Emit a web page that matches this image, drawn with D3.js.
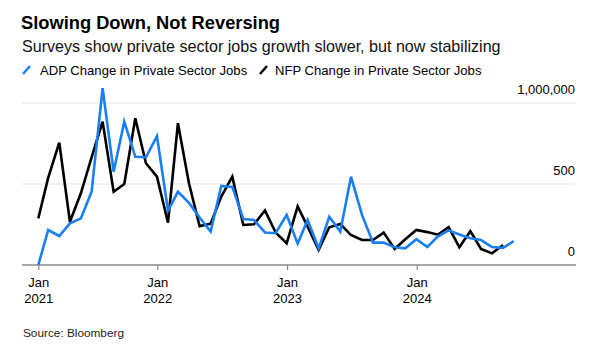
<!DOCTYPE html>
<html>
<head>
<meta charset="utf-8">
<script src="https://cdn.jsdelivr.net/npm/d3@7"></script>
<style>
  html, body { margin: 0; padding: 0; background: #fff; }
  svg { display: block; font-family: "Liberation Sans", Arial, sans-serif; }
</style>
</head>
<body>
<svg id="chart" width="606" height="355"></svg>
<script>
// ---- Data (thousands), monthly, month-end dated ----
const firstMonth = [2021, 0]; // Jan 2021
const adpValues = [
  0, 216, 179, 257, 288, 452, 1091, 576, 885, 668, 665, 796,
  335, 452, 383, 293, 206, 488, 482, 284, 278, 201, 196, 309,
  132, 278, 103, 298, 206, 545, 309, 138, 138, 109, 103, 159,
  111, 175, 214, 188, 165, 154, 111, 106, 147
];
const nfpValues = [
  288, 540, 755, 267, 444, 665, 885, 452, 500, 906, 628, 545,
  261, 875, 505, 240, 255, 422, 545, 247, 251, 337, 200, 134,
  362, 236, 93, 233, 253, 185, 154, 154, 200, 99, 159, 216,
  203, 187, 234, 110, 209, 99, 72, 123
];
const yTickValues = [0, 500, 1000];
const yTickLabels = ["0", "500", "1,000,000"];
const xTickDates = [new Date(2021, 0, 31), new Date(2022, 0, 1), new Date(2023, 0, 1), new Date(2024, 0, 1)];
const xTickLabels = [["Jan", "2021"], ["Jan", "2022"], ["Jan", "2023"], ["Jan", "2024"]];
const seriesNames = ["ADP Change in Private Sector Jobs", "NFP Change in Private Sector Jobs"];
const colors = { adp: "#1a7ef5", nfp: "#000000" };

const monthEnd = i => new Date(firstMonth[0], firstMonth[1] + i + 1, 0);
const adp = adpValues.map((v, i) => ({ date: monthEnd(i), value: v }));
const nfp = nfpValues.map((v, i) => ({ date: monthEnd(i), value: v }));

// ---- Layout ----
const svg = d3.select("#chart");
const plotLeft = 22, plotRight = 576;

const x = d3.scaleTime()
  .domain([new Date(2021, 0, 31), new Date(2024, 0, 1)])
  .range([38.3, 416.7]);
const y = d3.scaleLinear().domain([0, 1000]).range([265, 103]);

// Title / subtitle
svg.append("text").attr("x", 21).attr("y", 29)
  .attr("font-size", 18.3).attr("font-weight", "bold").attr("fill", "#000")
  .text("Slowing Down, Not Reversing");
svg.append("text").attr("x", 22).attr("y", 52)
  .attr("font-size", 16.1).attr("fill", "#111")
  .text("Surveys show private sector jobs growth slower, but now stabilizing");

// Legend
const legend = [
  { name: seriesNames[0], color: colors.adp, ix: 23, tx: 40 },
  { name: seriesNames[1], color: colors.nfp, ix: 260, tx: 275 }
];
legend.forEach(l => {
  svg.append("line").attr("x1", l.ix).attr("y1", 74).attr("x2", l.ix + 7).attr("y2", 66)
    .attr("stroke", l.color).attr("stroke-width", 2.4);
  svg.append("text").attr("x", l.tx).attr("y", 75)
    .attr("font-size", 13.1).attr("fill", "#000").text(l.name);
});

// Gridlines
svg.append("g").selectAll("line").data(yTickValues.filter(v => v > 0)).join("line")
  .attr("x1", plotLeft).attr("x2", plotRight - 1)
  .attr("y1", d => y(d)).attr("y2", d => y(d))
  .attr("stroke", "#ececec").attr("stroke-width", 1.5);

// Y labels (right aligned, above gridline)
svg.append("g").selectAll("text").data(yTickValues).join("text")
  .attr("x", 575).attr("y", d => y(d) - 9)
  .attr("text-anchor", "end").attr("font-size", 13).attr("fill", "#000")
  .text((d, i) => yTickLabels[i]);

// X axis
const xAxis = d3.axisBottom(x).tickValues(xTickDates).tickSize(5).tickFormat("");
const gx = svg.append("g").attr("transform", `translate(0,${y(0)})`).call(xAxis);
gx.select(".domain").remove();
gx.selectAll(".tick line").attr("stroke", "#888").attr("stroke-width", 1.2);
svg.append("line").attr("x1", plotLeft).attr("x2", plotRight)
  .attr("y1", y(0)).attr("y2", y(0)).attr("stroke", "#8a8a8a").attr("stroke-width", 1.5);
gx.selectAll(".tick").each(function(d, i) {
  const t = d3.select(this).append("text")
    .attr("fill", "#000").attr("font-size", 13).attr("text-anchor", "middle");
  t.append("tspan").attr("x", 0).attr("y", 22).text(xTickLabels[i][0]);
  t.append("tspan").attr("x", 0).attr("y", 38).text(xTickLabels[i][1]);
});

// Lines
const line = d3.line().x(d => x(d.date)).y(d => y(d.value));
svg.append("path").datum(nfp).attr("d", line)
  .attr("fill", "none").attr("stroke", colors.nfp).attr("stroke-width", 2.6)
  .attr("stroke-linejoin", "miter");
svg.append("path").datum(adp).attr("d", line)
  .attr("fill", "none").attr("stroke", colors.adp).attr("stroke-width", 2.6)
  .attr("stroke-linejoin", "miter");

// Source
svg.append("text").attr("x", 23).attr("y", 337)
  .attr("font-size", 11.8).attr("fill", "#222").text("Source: Bloomberg");
</script>
</body>
</html>
